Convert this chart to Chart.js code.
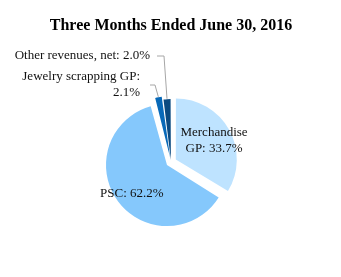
<!DOCTYPE html>
<html>
<head>
<meta charset="utf-8">
<script src="https://cdn.jsdelivr.net/npm/chart.js@4/dist/chart.umd.min.js"></script>
<style>
  html, body { margin: 0; padding: 0; background: #fff; }
  #wrap { width: 341px; height: 277px; position: relative; }
</style>
</head>
<body>
<div id="wrap"><canvas id="c" width="341" height="277"></canvas></div>
<script>
// Revenue mix, three months ended June 30, 2016 (percent of total)
const categories = ['Merchandise GP', 'PSC', 'Jewelry scrapping GP', 'Other revenues, net'];
const shares = [33.7, 62.2, 2.1, 2.0];
const sliceColors = ['#BEE3FF', '#85C8FC', '#0869B8', '#0B4A80'];
// explode distance of each wedge, in pixels
const explodePx = [5.5, 5, 5, 2];

const titleText = 'Three Months Ended June 30, 2016';
const pct = v => v.toFixed(1) + '%';

// text lines for each wedge
const labelLines = [
  ['Merchandise', 'GP: ' + pct(shares[0])],
  ['PSC: ' + pct(shares[1])],
  ['Jewelry scrapping GP:', pct(shares[2])],
  ['Other revenues, net: ' + pct(shares[3])]
];

// placement of the labels: inside ones sit on the bisector, outside ones use a leader line
const labelPlacement = [
  { inside: true, frac: 0.70, dx: 1, dy: 2 },
  { inside: true, frac: 0.72, dx: 0, dy: 2 },
  { inside: false, textRight: 140, textTop: 77, elbowX: 155, elbowY: 85, lineEndX: 150 },
  { inside: false, textRight: 150, textTop: 56, elbowX: 164, elbowY: 56, lineEndX: 157 }
];

const FONT = '"Liberation Serif", "Times New Roman", serif';

const sliceLabels = {
  id: 'sliceLabels',
  beforeDatasetsDraw(chart) {
    // keep every exploded wedge at the same nominal radius
    const meta = chart.getDatasetMeta(0);
    const R = meta.controller.outerRadius;
    meta.data.forEach(arc => {
      const shift = (arc.options.offset || 0) / 4;
      const fix = 1 - Math.sin(Math.min(Math.PI, arc.circumference));
      arc.outerRadius = R - shift * fix;
    });
  },
  afterDatasetsDraw(chart) {
    const ctx = chart.ctx;
    const meta = chart.getDatasetMeta(0);
    const R = meta.controller.outerRadius;
    ctx.save();
    ctx.font = '13px ' + FONT;
    ctx.fillStyle = '#111';
    meta.data.forEach((arc, i) => {
      const mid = (arc.startAngle + arc.endAngle) / 2;
      const shift = (arc.options.offset || 0) / 4;
      const cx = arc.x + Math.cos(mid) * shift;
      const cy = arc.y + Math.sin(mid) * shift;
      const p = labelPlacement[i];
      const lines = labelLines[i];
      if (p.inside) {
        const lx = cx + Math.cos(mid) * R * p.frac + p.dx;
        const ly = cy + Math.sin(mid) * R * p.frac + p.dy;
        ctx.textAlign = 'center';
        ctx.textBaseline = 'middle';
        const lh = 16;
        lines.forEach((t, k) => {
          ctx.fillText(t, lx, ly + (k - (lines.length - 1) / 2) * lh);
        });
      } else {
        const ox = cx + Math.cos(mid) * (R + 0.5);
        const oy = cy + Math.sin(mid) * (R + 0.5);
        ctx.strokeStyle = '#A6A6A6';
        ctx.lineWidth = 1;
        ctx.beginPath();
        ctx.moveTo(ox, oy);
        ctx.lineTo(p.elbowX, p.elbowY);
        ctx.lineTo(p.lineEndX, p.elbowY);
        ctx.stroke();
        ctx.textAlign = 'right';
        ctx.textBaseline = 'middle';
        lines.forEach((t, k) => {
          ctx.fillText(t, p.textRight, p.textTop + k * 16);
        });
      }
    });
    ctx.restore();
  }
};

new Chart(document.getElementById('c'), {
  type: 'pie',
  data: {
    labels: categories,
    datasets: [{
      data: shares,
      backgroundColor: sliceColors,
      borderWidth: 0,
      offset: explodePx.map(d => d * 4)
    }]
  },
  options: {
    responsive: false,
    animation: false,
    radius: 61,
    layout: { padding: { left: 1, right: 0, top: 0, bottom: 0 } },
    plugins: {
      legend: { display: false },
      tooltip: { enabled: false },
      title: {
        display: true,
        text: titleText,
        color: '#000',
        font: { family: FONT, size: 16, weight: 'bold', lineHeight: 1.2 },
        padding: { top: 16, bottom: 12 }
      }
    }
  },
  plugins: [sliceLabels]
});
</script>
</body>
</html>
